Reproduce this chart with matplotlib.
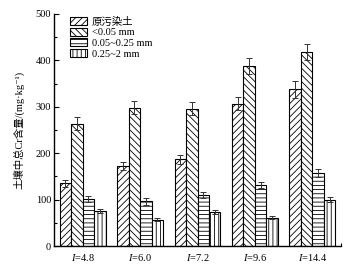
import matplotlib
matplotlib.use("Agg")
import matplotlib.pyplot as plt
import numpy as np

plt.rcParams['font.family'] = ['Liberation Serif', 'Noto Sans CJK SC', 'DejaVu Sans']
plt.rcParams['mathtext.fontset'] = 'custom'
plt.rcParams['mathtext.it'] = 'Liberation Serif:italic'
plt.rcParams['mathtext.rm'] = 'Liberation Serif'
plt.rcParams['hatch.linewidth'] = 0.6

categories = ['$I$=4.8', '$I$=6.0', '$I$=7.2', '$I$=9.6', '$I$=14.4']
series_names = ['原污染土', '<0.05 mm', '0.05~0.25 mm', '0.25~2 mm']
original = [135, 172, 187, 307, 338]
lt005 = [263, 298, 296, 388, 418]
mid = [101, 96, 110, 131, 158]
coarse = [75, 57, 74, 61, 100]
err_original = [8, 9, 10, 14, 18]
err_lt005 = [14, 14, 14, 18, 18]
err_mid = [7, 7, 6, 7, 9]
err_coarse = [4, 3, 4, 3, 5]

values = [original, lt005, mid, coarse]
errors = [err_original, err_lt005, err_mid, err_coarse]
hatches = ['/////', '\\\\\\\\\\', '----', '||||']

fig = plt.figure(figsize=(3.52, 2.69), dpi=100)
ax = fig.add_axes([0.1534, 0.0855, 0.8154, 0.8625])

x = np.arange(len(categories))
w = 0.2
for i, (vals, errs, h, name) in enumerate(zip(values, errors, hatches, series_names)):
    pos = x + (i - 1.5) * w
    ax.bar(pos, vals, width=w, color='white', edgecolor='black', linewidth=0.8,
           hatch=h, label=name, zorder=2)
    ax.errorbar(pos, vals, yerr=errs, fmt='none', ecolor='#333333', elinewidth=0.7,
                capsize=2.2, capthick=0.7, zorder=3)

ax.set_xlim(-0.5, 4.5)
ax.set_ylim(0, 500)
ax.set_xticks(x)
ax.set_xticklabels(categories, fontsize=7.5)
ax.set_xticks([4.5], minor=True)
ax.set_yticks(np.arange(0, 501, 100))
ax.set_yticks(np.arange(0, 501, 50), minor=True)
ax.tick_params(axis='y', which='major', direction='in', length=3.5, width=0.8, labelsize=7.5, pad=2)
ax.tick_params(axis='y', which='minor', direction='in', length=2, width=0.8)
ax.tick_params(axis='x', which='major', length=0, labelsize=7.5, pad=4)
ax.tick_params(axis='x', which='minor', direction='in', length=2.5, width=0.8)
for s in ['top', 'right']:
    ax.spines[s].set_visible(False)
for s in ['left', 'bottom']:
    ax.spines[s].set_linewidth(1.0)
ax.set_ylabel('土壤中总Cr含量/(mg·kg\u207b\u00b9)', fontsize=7.5, labelpad=8)

leg = ax.legend(loc='upper left', bbox_to_anchor=(0.03, 1.02), frameon=False, fontsize=7.5,
                handlelength=1.6, handleheight=0.8, handletextpad=0.5, labelspacing=0.1,
                borderpad=0.2)

fig.savefig('out.png', dpi=100)
